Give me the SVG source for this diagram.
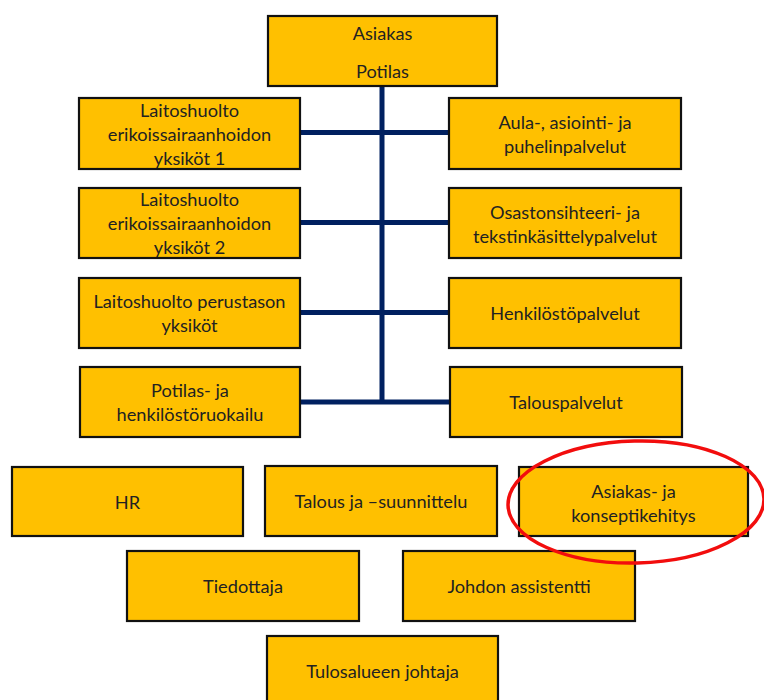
<svg xmlns="http://www.w3.org/2000/svg" width="764" height="700" viewBox="0 0 764 700">
  <style>
    .box { fill: #FFC000; stroke: #111; stroke-width: 2.2; }
    .lbl { font-family: Lato, "Liberation Sans", sans-serif; font-size: 18.2px; fill: #222; text-anchor: middle; dominant-baseline: central; }
    .conn { stroke: #002060; stroke-width: 5; fill: none; }
  </style>
  <rect width="764" height="700" fill="#fff"/>

  <!-- connectors: trunk and branches -->
  <g id="connectors">
    <line class="conn" x1="382" y1="86" x2="382" y2="404"/>
    <line class="conn" x1="300" y1="132.5" x2="449" y2="132.5"/>
    <line class="conn" x1="300" y1="222.5" x2="449" y2="222.5"/>
    <line class="conn" x1="300" y1="312.5" x2="449" y2="312.5"/>
    <line class="conn" x1="300" y1="402" x2="450" y2="402"/>
  </g>

  <g id="asiakas-potilas">
    <rect class="box" x="268" y="16" width="229" height="70"/>
    <text class="lbl" x="382.5" y="33">Asiakas</text>
    <text class="lbl" x="382.5" y="71">Potilas</text>
  </g>

  <g id="laitoshuolto-1">
    <rect class="box" x="79" y="98" width="221" height="71"/>
    <text class="lbl" x="189.5" y="109.5">Laitoshuolto</text>
    <text class="lbl" x="189.5" y="133.5">erikoissairaanhoidon</text>
    <text class="lbl" x="189.5" y="157.5">yksiköt 1</text>
  </g>

  <g id="laitoshuolto-2">
    <rect class="box" x="79" y="188" width="221" height="70"/>
    <text class="lbl" x="189.5" y="199">Laitoshuolto</text>
    <text class="lbl" x="189.5" y="223">erikoissairaanhoidon</text>
    <text class="lbl" x="189.5" y="247">yksiköt 2</text>
  </g>

  <g id="laitoshuolto-perustaso">
    <rect class="box" x="79" y="278" width="221" height="70"/>
    <text class="lbl" x="189.5" y="301">Laitoshuolto perustason</text>
    <text class="lbl" x="189.5" y="325">yksiköt</text>
  </g>

  <g id="ruokailu">
    <rect class="box" x="80" y="367" width="220" height="70"/>
    <text class="lbl" x="190" y="390">Potilas- ja</text>
    <text class="lbl" x="190" y="414">henkilöstöruokailu</text>
  </g>

  <g id="aula">
    <rect class="box" x="449" y="98" width="232" height="71"/>
    <text class="lbl" x="565" y="122">Aula-, asiointi- ja</text>
    <text class="lbl" x="565" y="146">puhelinpalvelut</text>
  </g>

  <g id="osastonsihteeri">
    <rect class="box" x="449" y="188" width="232" height="70"/>
    <text class="lbl" x="565" y="212">Osastonsihteeri- ja</text>
    <text class="lbl" x="565" y="236">tekstinkäsittelypalvelut</text>
  </g>

  <g id="henkilostopalvelut">
    <rect class="box" x="449" y="278" width="232" height="70"/>
    <text class="lbl" x="565" y="313">Henkilöstöpalvelut</text>
  </g>

  <g id="talouspalvelut">
    <rect class="box" x="450" y="367" width="232" height="70"/>
    <text class="lbl" x="566" y="402">Talouspalvelut</text>
  </g>

  <g id="hr">
    <rect class="box" x="12" y="467" width="231" height="69"/>
    <text class="lbl" x="127.5" y="501.5">HR</text>
  </g>

  <g id="talous-suunnittelu">
    <rect class="box" x="265" y="466" width="232" height="70"/>
    <text class="lbl" x="381" y="501">Talous ja –suunnittelu</text>
  </g>

  <g id="konseptikehitys">
    <rect class="box" x="519" y="467" width="229" height="69"/>
    <text class="lbl" x="633.5" y="491">Asiakas- ja</text>
    <text class="lbl" x="633.5" y="515">konseptikehitys</text>
  </g>

  <g id="tiedottaja">
    <rect class="box" x="127" y="551" width="232" height="70"/>
    <text class="lbl" x="243" y="586">Tiedottaja</text>
  </g>

  <g id="johdon-assistentti">
    <rect class="box" x="403" y="551" width="232" height="70"/>
    <text class="lbl" x="519" y="586">Johdon assistentti</text>
  </g>

  <g id="tulosalueen-johtaja">
    <rect class="box" x="267" y="636" width="231" height="72"/>
    <text class="lbl" x="382.5" y="671">Tulosalueen johtaja</text>
  </g>

  <!-- highlight ring -->
  <ellipse cx="636" cy="502" rx="128" ry="61" transform="rotate(-1.5 636 502)" fill="none" stroke="#F20D0D" stroke-width="3.5"/>
</svg>
